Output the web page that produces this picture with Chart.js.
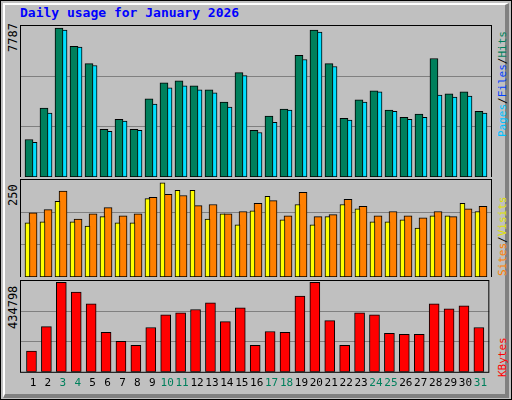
<!DOCTYPE html>
<html><head><meta charset="utf-8">
<script src="https://cdn.jsdelivr.net/npm/chart.js@4/dist/chart.umd.min.js"></script>
<style>
body{margin:0;background:#c0c0c0}
#frame{position:absolute;left:0;top:0;width:510px;height:398px;border:1px solid #000;background:#c0c0c0}
#bevel{position:absolute;left:3px;top:3px;width:500px;height:389px;border-top:2px solid #fff;border-left:2px solid #fff;border-right:4px solid #808080;border-bottom:4px solid #808080}
.p{position:absolute;left:20px;width:472px}
#title{position:absolute;left:20px;top:5px;font:bold 13px "DejaVu Sans Mono",monospace;color:#0000ff}
.l{position:absolute;transform-origin:0 0;font:11px 'DejaVu Sans Mono';line-height:13px;white-space:nowrap}
</style></head>
<body>
<div id="frame"></div><div id="bevel"></div>
<div id="title">Daily usage for January 2026</div>
<div class="p" style="top:25px;height:152px"><canvas id="c1"></canvas></div>
<div class="p" style="top:179px;height:98px"><canvas id="c2"></canvas></div>
<div class="p" style="top:280px;height:115px"><canvas id="c3"></canvas></div>
<script>
// values
var days=[1,2,3,4,5,6,7,8,9,10,11,12,13,14,15,16,17,18,19,20,21,22,23,24,25,26,27,28,29,30,31]
var weekend=[3,4,10,11,17,18,24,25,31]
var hits=[1920,3530,7630,6700,5810,2440,2960,2440,4000,4830,4930,4670,4460,3840,5350,2390,3120,3480,6230,7530,5810,3010,3950,4410,3430,3060,3220,6070,4260,4360,3370]
var files=[1770,3270,7530,6650,5710,2340,2860,2390,3740,4570,4670,4460,4310,3580,5190,2280,2800,3430,6020,7420,5660,2910,3840,4360,3370,2960,3060,4200,4100,4150,3270]
var pages=[1350,2600,5560,4830,4150,2080,2180,1770,2960,3690,3690,3480,3690,2910,3890,1710,2390,2600,4670,5500,3060,1660,3220,3530,2540,2340,2340,3220,3370,3430,2490]
var sites=[138,141,193,141,130,154,138,138,200,240,221,221,148,161,133,169,206,146,185,133,154,185,174,141,141,146,125,156,156,188,167]
var visits=[164,172,219,148,161,177,156,161,203,211,208,182,185,161,167,188,195,156,216,154,159,198,180,156,167,156,151,167,154,174,180]
var kbytes=[97800,214300,424000,377400,321500,186400,144400,125800,209700,270200,279500,295100,326100,237600,302800,125800,191000,186400,358700,424000,242300,125800,279500,270200,181700,177000,177000,321500,298200,312200,209700]
var maxHits=7787, maxSites=250, maxKB=434798

function pts(vals,off){return days.map(function(d,i){return {x:d+off,y:vals[i]}})}

var panel={id:'panel',beforeDatasetsDraw:function(ch,a,o){
  var c=ch.ctx,ar=ch.chartArea,y=ch.scales.y
  c.save();c.strokeStyle='#808080';c.lineWidth=1
  ;[1/3,2/3].forEach(function(f){var py=Math.round(y.getPixelForValue(o.max*f))+0.5
    c.beginPath();c.moveTo(ar.left,py);c.lineTo(ar.right,py);c.stroke()})
  c.restore()},
 afterDraw:function(ch,a,o){
  var c=ch.ctx,ar=ch.chartArea
  c.save();c.strokeStyle='#000';c.lineWidth=1
  c.strokeRect(ar.left+0.5,ar.top+0.5,ar.right-ar.left-1,ar.bottom-ar.top)
  c.restore()}}

function opts(max,showX){
  return {responsive:true,maintainAspectRatio:false,animation:false,
    layout:{padding:0},
    plugins:{legend:{display:false},tooltip:{enabled:false},panel:{max:max}},
    scales:{
      x:{type:'linear',min:0.23,max:31.7,offset:false,display:showX,
        grid:{display:false,drawTicks:false},border:{display:false},
        afterBuildTicks:function(s){s.ticks=days.map(function(d){return {value:d+0.1}})},
        ticks:{autoSkip:false,maxRotation:0,padding:5,font:{family:'DejaVu Sans Mono',size:11},
          callback:function(v){return Math.round(v)},
          color:function(c){return weekend.indexOf(Math.round(c.tick.value))>=0?'#00805c':'#000'}}},
      y:{min:0,max:max,display:false}
    }}
}
function bar(vals,off,w,col){return {data:pts(vals,off),backgroundColor:col,borderColor:'#000',borderWidth:1,borderSkipped:false,barThickness:w,grouped:false}}

new Chart(document.getElementById('c1'),{type:'bar',plugins:[panel],
  data:{datasets:[bar(hits,-0.17,8,'#00805c'),bar(files,0.1,8,'#00e0ff'),bar(pages,-0.23,3,'#0040ff')]},
  options:opts(maxHits,false)})
new Chart(document.getElementById('c2'),{type:'bar',plugins:[panel],
  data:{datasets:[bar(sites,-0.27,5,'#ffff00'),bar(visits,0.1,8,'#ff8000')]},
  options:opts(maxSites,false)})
new Chart(document.getElementById('c3'),{type:'bar',plugins:[panel],
  data:{datasets:[bar(kbytes,0,10,'#ff0000')]},
  options:opts(maxKB,true)})
</script>
<div class="l" style="left:7px;top:52px;transform:rotate(-90deg);font-size:12px">7787</div>
<div class="l" style="left:7px;top:206px;transform:rotate(-90deg);font-size:12px">250</div>
<div class="l" style="left:7px;top:329px;transform:rotate(-90deg);font-size:12px">434798</div>
<div class="l" style="left:496px;top:137px;transform:rotate(-90deg)"><span style="color:#00c0ff">Pages</span>/<span style="color:#0040ff">Files</span>/<span style="color:#00805c">Hits</span></div>
<div class="l" style="left:496px;top:276px;transform:rotate(-90deg)"><span style="color:#ff8000">Sites</span>/<span style="color:#e0e000">Visits</span></div>
<div class="l" style="left:496px;top:377px;transform:rotate(-90deg);color:#ff0000">KBytes</div>
</body></html>
